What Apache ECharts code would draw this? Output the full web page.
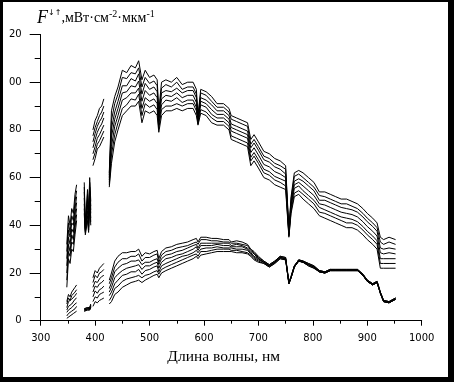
<!DOCTYPE html>
<html><head><meta charset="utf-8">
<script src="https://cdn.jsdelivr.net/npm/echarts@6/dist/echarts.min.js"></script>
<style>html,body{margin:0;padding:0;background:#fff}#c{width:454px;height:382px}</style>
</head><body><div id="c"></div>
<script>
// wavelengths, nm (null values in the series mark gaps)
const wl = [348,351,354,357,360,363,366,372,380,382,386,388,390,392,394,396,400,404,408,412,416,421,
426,430,436,442,450,458,466,474,480,486,492,500,508,514,517,522,530,540,550,560,570,580,586,589,594,604,614,624,636,646,
650,660,670,680,686,692,700,710,720,730,740,750,756,760,766,774,782,792,802,812,822,832,842,852,862,872,882,892,900,910,918,924,930,940,952];

// upper family (7 curves)
const upper1 = [32,44,40,47,45,53,57,null,58,40,55,45,60,50,null,80,84,86,89,90,93,null,
62,88,94,98,105,104,107,106,109,101,105,102,103,101,88,100,101,100,102,99,100,100,97,86,97,96,94,91,91,89,
86,85,84,83,76,78,75,71,70,68,67,65,38,52,62,63,62,60,58,54,54,53,52,51,51,50,49,47,45,43,41,35,34,35,34];
const upper2 = [29,41,37,44,42,50,54.5,null,56,39,53,44,58,48,null,77.5,81,83.5,86,87.5,90,null,
61,84,91,95,102,101.5,104,103.5,106,98,102,99.5,100.5,98.5,86.5,97.5,99,98,100,97,98,98,95,85.5,95.5,94.5,92,89.5,89.5,87.5,
84.5,83.5,82.5,81.5,74,76,73,69,68,66,65,63.5,37.5,51,60.5,61.5,60,58,56,52.5,52,51,50,49,49,48,47,45,43,41,39,33,32,33,32];
const upper3 = [26,38,35,41,40,47,52,null,54,38.5,51,42.5,56,46.5,null,75,78.5,81.5,83.5,85,87.5,null,
60,80.5,87.5,92,98.5,98.5,101.5,100.5,103.5,95,99.5,97,98,96,85,95.5,96.5,96,97.5,95.5,96.5,96.5,93.5,84.5,93.5,92.5,90.5,88,88,86,
82.5,81.5,80.5,79.5,72.5,74.5,71.5,67.5,66.5,64.5,63.5,61.5,37,49.5,58.5,59.5,58.5,56.5,54.5,50.5,50.5,49.5,48.5,47.5,47,46.5,45.5,43.5,41.5,39.5,37.5,30.5,30,30.5,30];
const upper4 = [23,35,32,38.5,37,44.5,49.5,null,51.5,38,48.5,41,54,45,null,72.5,76,79,81,82.5,85,null,
59,77,84.5,89,95.5,96,98.5,98,100.5,92,96.5,94.5,95.5,93.5,83.5,93,94.5,94,95.5,93.5,94.5,94.5,91.5,84,92,91,88.5,86.5,86.5,84.5,
81,80,79,78,70.5,72.5,69.5,65.5,64.5,62.5,61.5,60,36.5,48.5,57,58,56.5,54.5,52.5,49,48.5,47.5,46.5,45.5,45,44.5,43.5,41.5,39.5,37.5,35.5,28.5,28,28.5,28];
const upper5 = [20,32,29,36,34,42,47,null,49,37.5,46,39.5,52,43,null,70,73,76.5,78,80,82,null,
58,73,81.5,86,92.5,93.5,95.5,95.5,97.5,89,93.5,92,93,91,82,90.5,92.5,92,93.5,91.5,92.5,92.5,89.5,83.5,90.5,89.5,86.5,85,85,83,
79.5,78.5,77.5,76.5,68.5,70.5,67.5,63.5,62.5,60.5,59.5,58.5,36,47.5,55.5,56.5,54.5,52.5,50.5,47.5,46.5,45.5,44.5,43.5,43,42.5,41.5,39.5,37.5,35.5,33.5,26,26,26,26];
const upper6 = [17,29,27,33,32,39,44.5,null,47,37,44,38,50,41.5,null,67.5,70.5,74,75.5,77.5,79.5,null,
57,69.5,78,83,89,90.5,93,92.5,95,86,91,89.5,90.5,88.5,80.5,88.5,90,90,91,90,91,91,88,82.5,88.5,87.5,85,83.5,83.5,81.5,
77.5,76.5,75.5,74.5,67,69,66,62,61,59,58,56.5,35.5,46,53.5,54.5,53,51,49,45.5,45,44,43,42,41,41,40,38,36,34,32,24,24,24,24];
const upper7 = [14,26,24,30,29,36,42,null,45,36,42,37,48,40,null,65,68,72,73,75,77,null,
56,66,75,80,86,88,90,90,92,83,88,87,88,86,79,86,88,88,89,88,89,89,86,82,87,86,83,82,82,80,
76,75,74,73,65,67,64,60,59,57,56,55,35,45,52,53,51,49,47,44,43,42,41,40,39,39,38,36,34,32,30,22,22,22,22];

// lower family (7 curves)
const lower1 = [8,11,10,12,12,14,15,null,5,4.5,5.5,6,5.5,7,null,18,21,20,22,23,24,null,
17,20,25,27,28.5,28.5,29,29,30,27,28.5,28,29,29.5,26,29,30.5,31,32,32.5,33,34,34.5,33,35,35,34.5,34.5,34,34,
33,33.5,33,32,30,29,27,25,23.5,25,27,26.5,16,18.5,23,25.5,25,24,23,21,20.5,21.5,21.5,21.5,21.5,21.5,21.5,19.5,17,15.5,16.5,12,8.5,8,9.5];
const lower2 = [7,9.5,8.5,10.5,10.5,12,13,null,5,4.5,5.5,6,5.5,6.5,null,16,19,18,20,20.5,21.5,null,
15.5,18,22.5,24.5,26,26,27,27,28,25,26.5,26.5,27.5,28,24.5,27.5,29,29.5,30.5,31,31.5,32.5,33,32,34,34,33.5,33.5,33,33,
32.5,32.5,32,31.5,29.5,28.5,26.5,25,23.5,25,27,26.5,16,18.5,23,25.5,25,24,23,21,20.5,21.5,21.5,21.5,21.5,21.5,21.5,19.5,17,15.5,16.5,12,8.5,8,9.5];
const lower3 = [5.5,8,7.5,9,9,10.5,11.5,null,4.5,4,5,5.5,5,6.5,null,14,16.5,16,17.5,18.5,19,null,
13.5,16,20.5,22,23.5,24,25,25,25.5,23.5,24.5,24.5,25.5,26,23.5,26,27.5,28,29,29.5,30.5,31.5,32,30.5,32.5,32.5,32.5,32.5,32.5,32.5,
31.5,32,31.5,30.5,29,28,26,24.5,23,24.5,26.5,26,16,18.5,23,25.5,25,23.5,22.5,21,20.5,21.5,21.5,21.5,21.5,21.5,21.5,19.5,17,15.5,16.5,12,8.5,8,9.5];
const lower4 = [4.5,6,6,7,7.5,9,9.5,null,4.5,4,5,5.5,5,6,null,12,14.5,14,15.5,16,17,null,
12,14,18,19.5,21,22,22.5,23,23.5,21.5,23,23,24,24.5,22,24.5,26,26.5,27.5,28,29,30,31,29.5,31.5,31.5,31.5,32,31.5,31.5,
31,31,31,30,28.5,27,26,24.5,23,24.5,26.5,26,15.5,18,22.5,25,24.5,23.5,22.5,20.5,20,21,21,21,21,21,21,19,16.5,15,16,11.5,8,7.5,9];
const lower5 = [3.5,4.5,4.5,5.5,6,7,7.5,null,4.5,4,5,5.5,5,6,null,10,12.5,11.5,13,13.5,14.5,null,
10.5,12,15.5,17,19,19.5,20.5,20.5,21.5,19.5,21,21.5,22.5,23,20.5,23,24,25,26,27,27.5,28.5,29.5,28.5,30,30.5,30.5,31,30.5,30.5,
30.5,30,30,29.5,28,26.5,25.5,24.5,23,24.5,26.5,26,15.5,18,22.5,25,24.5,23.5,22.5,20.5,20,21,21,21,21,21,21,19,16.5,15,16,11.5,8,7.5,9];
const lower6 = [2,3,3.5,4,4.5,5,6,null,4,3.5,4.5,5,4.5,5.5,null,8,10,9.5,11,11.5,12,null,
8.5,10,13.5,14.5,16.5,17.5,18,18.5,19,18,19,19.5,20.5,21,19.5,21.5,22.5,23.5,24.5,25.5,26.5,27.5,28,27,29,29,29.5,30,30,30,
29.5,29.5,29,28.5,27.5,26,25,24,22.5,24,26,25.5,15.5,18,22.5,25,24.5,23,22,20.5,20,21,21,21,21,21,21,19,16.5,15,16,11.5,8,7.5,9];
const lower7 = [1,1.5,2,2.5,3,3.5,4,null,4,3.5,4.5,5,4.5,5.5,null,6,8,7.5,8.5,9,9.5,null,
7,8,11,12,14,15,16,16.5,17,16,17,18,19,19.5,18,20,21,22,23,24,25,26,27,26,27.5,28,28.5,29,29,29,
29,28.5,28.5,28,27,25.5,24.5,24,22.5,24,26,25.5,15.5,18,22.5,25,24.5,23,22,20.5,20,21,21,21,21,21,21,19,16.5,15,16,11.5,8,7.5,9];

const yTickValues = [0,20,40,60,80,100,120];
const yTickLabels = ['0','20','40','60','80','00','20'];
const xAxisTitle = 'Длина волны, нм';

const seriesList = [
  ['F↓↑ 1', upper1],['F↓↑ 2', upper2],['F↓↑ 3', upper3],['F↓↑ 4', upper4],['F↓↑ 5', upper5],['F↓↑ 6', upper6],['F↓↑ 7', upper7],
  ['F 1', lower1],['F 2', lower2],['F 3', lower3],['F 4', lower4],['F 5', lower5],['F 6', lower6],['F 7', lower7]
];

const chart = echarts.init(document.getElementById('c'), null, {renderer: 'canvas'});
const option = {
  animation: false,
  backgroundColor: '#fff',
  title: {
    left: 32, top: 4,
    text: '{f|F}{a|↓↑}{t|,мВт·см}{s|-2}{t|·мкм}{s|-1}',
    textStyle: {
      fontWeight: 'normal',
      rich: {
        f: {fontFamily: 'Liberation Serif', fontStyle: 'italic', fontWeight: 'normal', fontSize: 18, color: '#000'},
        a: {fontFamily: 'DejaVu Sans', fontWeight: 'normal', fontSize: 8, color: '#000', verticalAlign: 'top'},
        t: {fontFamily: 'Liberation Serif', fontWeight: 'normal', fontSize: 14, color: '#000'},
        s: {fontFamily: 'Liberation Serif', fontWeight: 'normal', fontSize: 10, color: '#000', verticalAlign: 'top'}
      }
    }
  },
  grid: {left: 40.7, right: 32.3, top: 34.5, bottom: 61.3, containLabel: false, outerBoundsMode: 'none'},
  xAxis: {
    type: 'value', min: 300, max: 1000, interval: 100,
    name: xAxisTitle, nameLocation: 'middle', nameGap: 23,
    nameTextStyle: {fontFamily: 'Liberation Serif', fontSize: 15.5, color: '#000', padding: [0, 15, 0, 0]},
    axisLine: {show: true, lineStyle: {color: '#000', width: 1}},
    axisTick: {show: true, inside: false, length: 5, lineStyle: {color: '#000', width: 1}},
    minorTick: {show: true, splitNumber: 2, length: 3, lineStyle: {color: '#000', width: 1}},
    splitLine: {show: false},
    axisLabel: {color: '#000', fontFamily: 'DejaVu Sans', fontSize: 10, margin: 13, formatter: v => String(v)}
  },
  yAxis: {
    type: 'value', min: 0, max: 120, interval: 20,
    axisLine: {show: true, lineStyle: {color: '#000', width: 1}},
    axisTick: {show: true, inside: false, length: 11, lineStyle: {color: '#000', width: 1}},
    minorTick: {show: true, splitNumber: 2, length: 6, lineStyle: {color: '#000', width: 1}},
    splitLine: {show: false},
    axisLabel: {color: '#000', fontFamily: 'DejaVu Sans', fontSize: 10, margin: 19,
      formatter: v => { const i = yTickValues.indexOf(v); return i >= 0 ? yTickLabels[i] : ''; }}
  },
  graphic: [
    {type: 'rect', shape: {x: 0, y: 0, width: 454, height: 2}, style: {fill: '#000'}, z: 100},
    {type: 'rect', shape: {x: 0, y: 0, width: 3, height: 382}, style: {fill: '#000'}, z: 100},
    {type: 'rect', shape: {x: 448, y: 0, width: 6, height: 382}, style: {fill: '#000'}, z: 100},
    {type: 'rect', shape: {x: 0, y: 377, width: 454, height: 5}, style: {fill: '#000'}, z: 100}
  ],
  series: seriesList.map(([name, vals]) => ({
    name, type: 'line', showSymbol: false, symbol: 'none', connectNulls: false,
    data: wl.map((x, i) => [x, vals[i]]),
    lineStyle: {color: '#000', width: 1}, itemStyle: {color: '#000'}
  }))
};
chart.setOption(option);
</script></body></html>
